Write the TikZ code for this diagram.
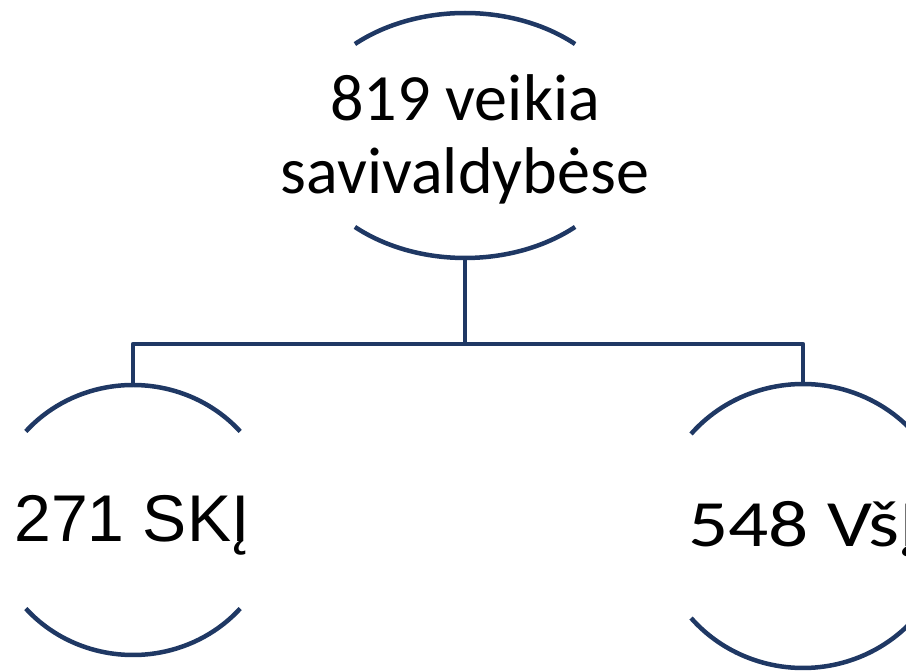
\documentclass[tikz,border=0pt]{standalone}
\usepackage{fontspec}
\usetikzlibrary{shapes.geometric}
\newfontfamily\calibfont{Carlito}
\newfontfamily\arialfont{Liberation Sans}
\definecolor{navy}{RGB}{31,56,100}

\begin{document}
\begin{tikzpicture}[x=0.025cm, y=0.025cm,
  orgline/.style={draw=navy, line width=3.2pt, line join=round},
  blob/.style={ellipse, draw=none, inner sep=0pt, outer sep=0pt},
  lbl/.style={inner sep=0pt, anchor=base}]

\def\xt{465}; % top unit
\def\yt{534.5};
\def\xl{133}; % SKI
\def\yl{150};
\def\xr{803}; % VsI
\def\yr{144};
\def\ybus{326};

\useasboundingbox (0,0) rectangle (906,670);
\clip (0,0) rectangle (906,670);

\node[blob, minimum width=8.275cm, minimum height=6.125cm] (top) at (\xt, \yt) {};
\node[blob, minimum width=7.1cm, minimum height=6.75cm] (skj) at (\xl, \yl) {};
\node[blob, minimum width=7.35cm, minimum height=7.1cm] (vsj) at (\xr, \yr) {};

% arcs round the top unit
\draw[orgline] ([shift={(48.3:165.5 and 122.5)}]top.center) arc[start angle=48.3, end angle=131.7, x radius=165.5, y radius=122.5];
\draw[orgline] ([shift={(228.3:165.5 and 122.5)}]top.center) arc[start angle=228.3, end angle=311.7, x radius=165.5, y radius=122.5];

% arcs round SKI
\draw[orgline] ([shift={(41:142 and 135)}]skj.center) arc[start angle=41, end angle=139, x radius=142, y radius=135];
\draw[orgline] ([shift={(221:142 and 135)}]skj.center) arc[start angle=221, end angle=319, x radius=142, y radius=135];

% arcs round VsI
\draw[orgline] ([shift={(40.4:147 and 142)}]vsj.center) arc[start angle=40.4, end angle=139.6, x radius=147, y radius=142];
\draw[orgline] ([shift={(220.4:147 and 142)}]vsj.center) arc[start angle=220.4, end angle=319.6, x radius=147, y radius=142];

% connectors
\coordinate (bus) at (\xt, \ybus);
\draw[orgline] (top.south) -- (bus);
\draw[orgline] (skj.north) |- (bus) -| (vsj.north);

\node[lbl, font=\calibfont\fontsize{47}{51.9}\selectfont, align=center] (toptxt) at (\xt, 476.7) {819 veikia\\savivaldybėse};
\node[lbl, font=\arialfont\fontsize{47}{56}\selectfont] (skjtxt) at (132, 128) {271 SKĮ};
\node[lbl, font=\calibfont\fontsize{47}{56}\selectfont, xscale=1.2] (vsjtxt) at (804, 123.3) {548 VšĮ};

\end{tikzpicture}
\end{document}
